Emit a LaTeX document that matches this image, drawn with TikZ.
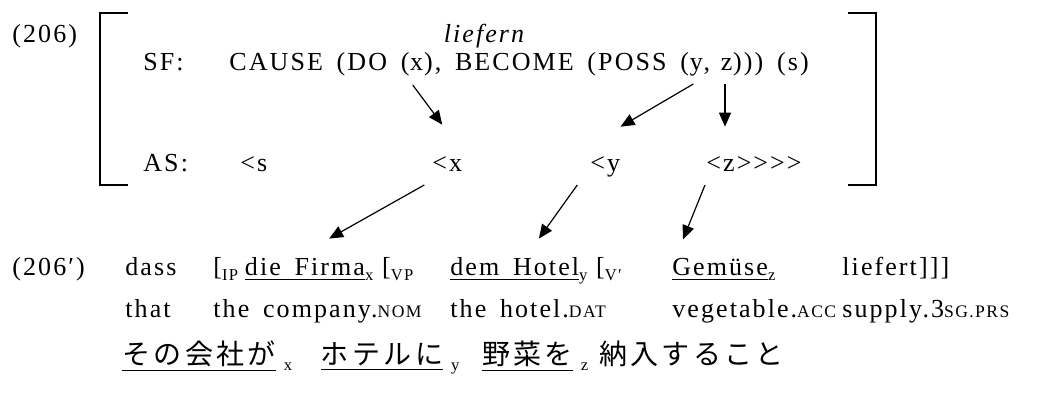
\documentclass[tikz,border=0pt]{standalone}
\usepackage{fontspec}
\setmainfont{Liberation Serif}[LetterSpace=8, WordSpace=1.6, Ligatures=TeXOff]
\newfontfamily\jpfont{Noto Sans CJK JP}[LetterSpace=12]
\usetikzlibrary{arrows.meta,positioning,calc}

% small capitals and index letters
\newcommand\smc[1]{{\fontsize{8.8}{10}\selectfont #1}}
\newcommand\ix[1]{\raisebox{-0.35ex}{\normalfont\fontsize{8.3}{9}\selectfont #1}}
\newcommand\jp{\fontsize{14}{16}\jpfont}

\tikzset{
  word/.style={inner sep=0pt, anchor=base west},
  link/.style={-{Triangle[length=7pt,width=6pt]}, line width=0.6pt},
  brace/.style={line width=1.1pt},
}

\begin{document}
\begin{tikzpicture}[x=0.5pt, y=-0.5pt, font=\fontsize{13}{15}\selectfont]
\useasboundingbox (0,0) rectangle (1044,405);

% lexical entry
\node[word] (num) at (12,43) {(206)};
\node[word, anchor=base] (verb) at (484,43) {\itshape liefern};
\node[word] (sf) at (143,71) {SF:};
\node[word] (sf1) at (229,71) {CAUSE (DO (};
\node[word] (sfx) at (sf1.base east) {x};
\node[word] (sf2) at (sfx.base east) {), BECOME (POSS (};
\node[word] (sfy) at (sf2.base east) {y};
\node[word] (sf3) at (sfy.base east) {,\kern5pt};
\node[word] (sfz) at (sf3.base east) {z};
\node[word] (sf4) at (sfz.base east) {))) (s)};

\node[word] (as) at (143,172) {AS:};
\node[word] (ass) at (240,172) {<s};
\node[word] (asx) at (432,172) {<x};
\node[word] (asy) at (590,172) {<y};
\node[word] (asz) at (706,172) {<z>>>>};

\draw[brace] (128,13) -| (100,185) -- (128,185);
\draw[brace] (848,13) -| (876,185) -- (848,185);

\draw[link] ($(sfx.base)+(-4,14)$) -- ($(asx.north)+(-5,-32)$);
\draw[link] ($(sfy.base)+(-3,13)$) -- ($(asy.north east)+(0,-30)$);
\draw[link] ($(asz.base west |- sfz.base)+(19,13)$) -- ($(asz.north west)+(19,-30)$);

% German clause, aligned with its gloss
\node[word] (num2) at (12,276) {(206′)};
\node[word] (dass) at (125,276) {dass};
\node[word] (ip) at (213,276) {[\ix{IP}};
\node[word] (firma) at ($(ip.base east)+(6,0)$) {\underline{die Firma}\ix{x}};
\node[word] (vp) at ($(firma.base east)+(8,0)$) {[\ix{VP}};
\node[word] (hotel) at (450,276) {\underline{dem Hotel}\ix{y}};
\node[word] (vbar) at ($(hotel.base east)+(8,0)$) {[\ix{V′}};
\node[word] (gemuese) at (672,276) {\underline{Gemüse}\ix{z}};
\node[word] (liefert) at (842,276) {liefert]]]};

\draw[link] ($(asx.base)+(-23,13)$) -- ($(firma.north)+(20,-19)$);
\draw[link] ($(asy.base)+(-28,13)$) -- ($(hotel.north)+(20,-19)$);
\draw[link] ($(asz.base west)+(-1,13)$) -- ($(gemuese.north west)+(11,-19)$);

% gloss
\node[word] (g1) at (dass.base west |- 0,318) {that};
\node[word] (g2) at (ip.base west |- 0,318) {the company.\smc{NOM}};
\node[word] (g3) at (hotel.base west |- 0,318) {the hotel.\smc{DAT}};
\node[word] (g4) at (gemuese.base west |- 0,318) {vegetable.\smc{ACC}};
\node[word] (g5) at (liefert.base west |- 0,318) {supply.3\smc{SG.PRS}};

% Japanese
\node[word] (jp1) at (122,365) {\jp\underline{その会社が}\kern4pt\ix{x}};
\node[word] (jp2) at ($(jp1.base east)+(28,0)$) {\jp\underline{ホテルに}\kern4pt\ix{y}};
\node[word] (jp3) at ($(jp2.base east)+(22,0)$) {\jp\underline{野菜を}\kern4pt\ix{z}};
\node[word] (jp4) at ($(jp3.base east)+(10,0)$) {\jp 納入すること};
\end{tikzpicture}
\end{document}
